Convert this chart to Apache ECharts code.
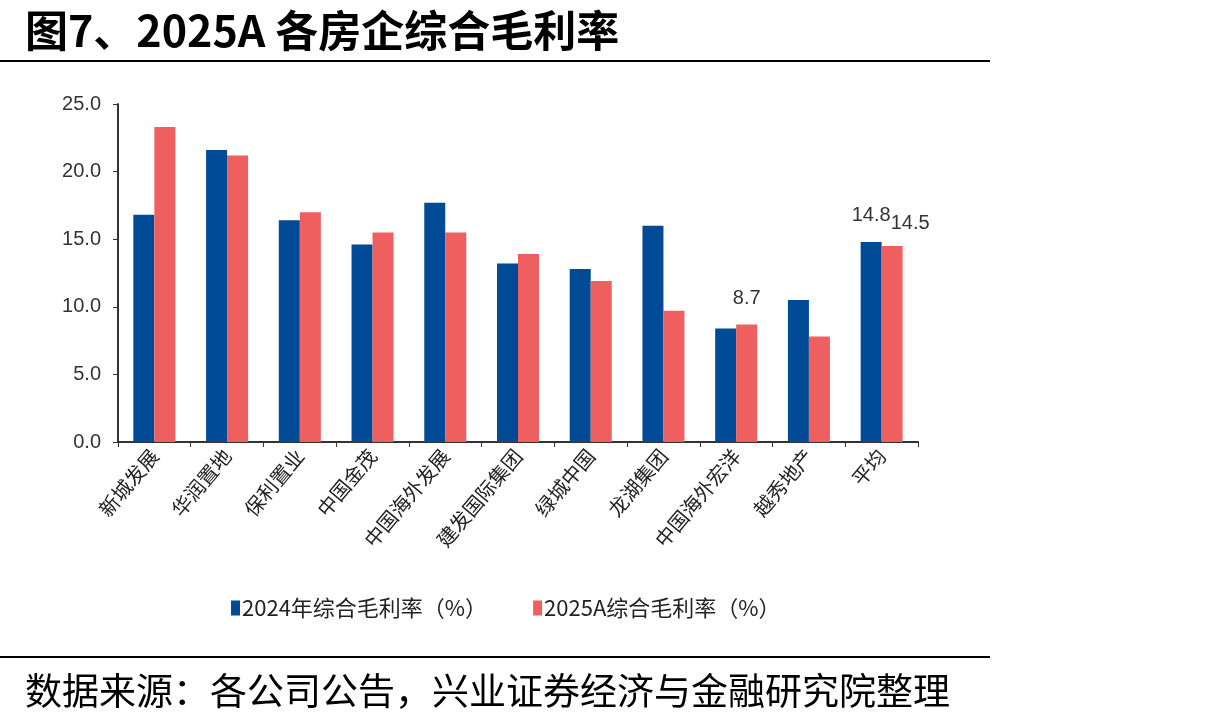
<!DOCTYPE html>
<html>
<head>
<meta charset="utf-8">
<script src="https://cdn.jsdelivr.net/npm/echarts@6/dist/echarts.min.js"></script>
<style>
  html, body { margin: 0; padding: 0; background: #fff; }
  #main { width: 1205px; height: 722px; }
</style>
</head>
<body>
<div id="main"></div>
<script>
const categories = ['新城发展', '华润置地', '保利置业', '中国金茂', '中国海外发展', '建发国际集团', '绿城中国', '龙湖集团', '中国海外宏洋', '越秀地产', '平均']
const margin2024 = [16.8, 21.6, 16.4, 14.6, 17.7, 13.2, 12.8, 16.0, 8.4, 10.5, 14.8]
const margin2025 = [23.3, 21.2, 17.0, 15.5, 15.5, 13.9, 11.9, 9.7, 8.7, 7.8, 14.5]
// 只标注部分数值
const labeled2024 = [10]
const labeled2025 = [8, 10]
const seriesNames = ['2024年综合毛利率（%）', '2025A综合毛利率（%）']

const font = '"Liberation Sans", Arial, "Noto Sans CJK SC", sans-serif'
const cjk = '"Noto Sans CJK SC", "Liberation Sans", sans-serif'

const myChart = echarts.init(document.getElementById('main'))

function withLabels (vals, idx, offset) {
  return vals.map(function (v, i) {
    if (idx.indexOf(i) < 0) return v
    return {
      value: v,
      label: { show: true, position: 'top', distance: 16, offset: offset && i === 10 ? offset : [0, 0] }
    }
  })
}

const labelStyle = { color: '#333', fontSize: 20, fontFamily: font, formatter: function (p) { return p.value.toFixed(1) } }

const option = {
  backgroundColor: '#fff',
  animation: false,
  title: [
    {
      text: '图7、2025A 各房企综合毛利率',
      left: 20,
      top: 4,
      textStyle: { fontSize: 43, fontWeight: 'bold', color: '#000', fontFamily: cjk }
    },
    {
      text: '数据来源：各公司公告，兴业证券经济与金融研究院整理',
      left: 20,
      top: 667,
      textStyle: { fontSize: 37, fontWeight: 'normal', color: '#000', fontFamily: cjk }
    }
  ],
  graphic: [
    { type: 'rect', shape: { x: 0, y: 60, width: 990, height: 2 }, style: { fill: '#000' } },
    { type: 'rect', shape: { x: 0, y: 656, width: 990, height: 2 }, style: { fill: '#000' } }
  ],
  legend: {
    left: 226,
    top: 592,
    itemWidth: 9,
    itemHeight: 15,
    itemGap: 46,
    icon: 'rect',
    textStyle: { fontSize: 22, color: '#222', fontFamily: cjk, padding: [0, 0, 0, -3] },
    data: seriesNames
  },
  grid: { left: 118, right: 287, top: 104, bottom: 280, containLabel: false },
  xAxis: {
    type: 'category',
    data: categories,
    axisLine: { lineStyle: { color: '#333', width: 2 } },
    axisTick: { show: true, alignWithLabel: false, length: 5, lineStyle: { color: '#333' } },
    axisLabel: { rotate: 50, fontSize: 20, color: '#222', fontFamily: cjk, interval: 0, margin: 10 }
  },
  yAxis: {
    type: 'value',
    min: 0,
    max: 25,
    interval: 5,
    axisLine: { show: true, lineStyle: { color: '#333', width: 2 } },
    axisTick: { show: true, length: 5, lineStyle: { color: '#333' } },
    axisLabel: { fontSize: 20, color: '#333', fontFamily: font, margin: 17, formatter: function (v) { return v.toFixed(1) } },
    splitLine: { show: false }
  },
  series: [
    {
      name: seriesNames[0],
      type: 'bar',
      barWidth: 21,
      barGap: '0%',
      itemStyle: { color: '#014B96' },
      label: Object.assign({ show: false }, labelStyle),
      data: withLabels(margin2024, labeled2024)
    },
    {
      name: seriesNames[1],
      type: 'bar',
      barWidth: 21,
      barGap: '0%',
      itemStyle: { color: '#EF5F60' },
      label: Object.assign({ show: false }, labelStyle),
      data: withLabels(margin2025, labeled2025, [18, 4])
    }
  ]
}
myChart.setOption(option)
window.addEventListener('resize', function () {
  myChart.resize()
})
</script>
</body>
</html>
